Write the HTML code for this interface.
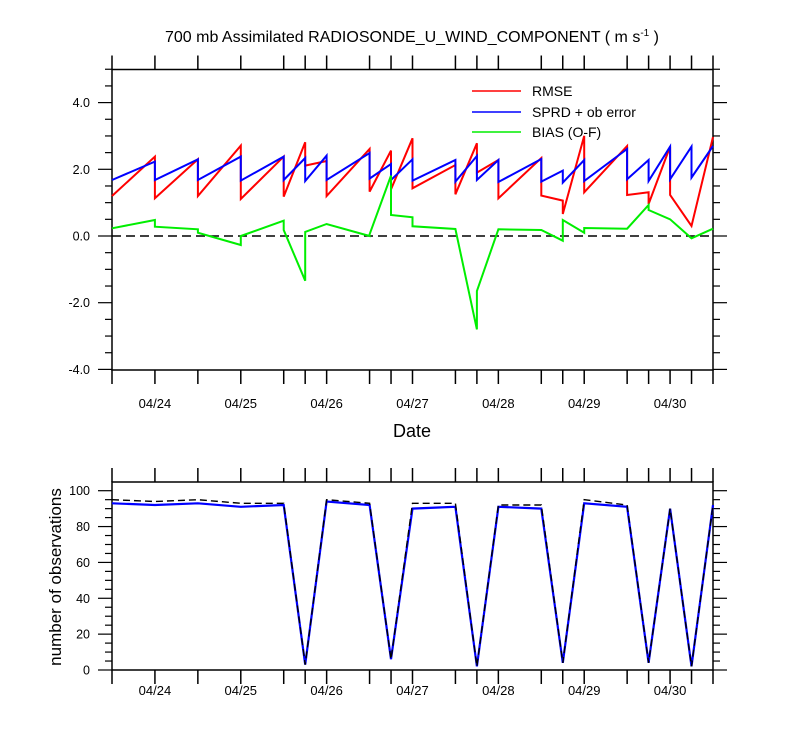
<!DOCTYPE html>
<html><head><meta charset="utf-8"><style>
html,body{margin:0;padding:0;background:#fff;}
svg{display:block;font-family:"Liberation Sans",Arial,sans-serif;}
</style></head><body>
<svg id="chart" width="800" height="750" viewBox="0 0 800 750"></svg>
<script>
const hours = [0,12,24,36,48,54,60,72,78,84,96,102,108,120,126,132,144,150,156,162,168];
const dateLabels = ["04/24","04/25","04/26","04/27","04/28","04/29","04/30"];
const dateHours = [12,36,60,84,108,132,156];
const rmseIn  = [1.2,2.38,2.3,2.71,2.38,2.81,2.25,2.61,2.56,2.93,2.13,2.78,2.28,2.34,1.06,3.0,2.7,1.31,2.68,0.3,2.97];
const rmseOut = [1.2,1.13,1.2,1.11,1.18,2.11,1.2,1.33,1.4,1.43,1.25,1.9,1.13,1.21,0.66,1.31,1.23,0.96,1.23,0.3,2.97];
const sprdIn  = [1.68,2.23,2.3,2.38,2.38,2.34,2.41,2.49,2.16,2.3,2.28,2.4,2.28,2.31,1.96,2.28,2.61,2.28,2.68,2.68,2.7];
const sprdOut = [1.68,1.68,1.68,1.66,1.68,1.65,1.68,1.72,1.68,1.66,1.63,1.68,1.62,1.63,1.6,1.65,1.7,1.65,1.7,1.75,2.7];
const biasIn  = [0.23,0.48,0.2,-0.27,0.46,-1.34,0.36,0.0,1.81,0.56,0.21,-2.8,0.2,0.18,-0.14,0.1,0.22,0.93,0.5,-0.07,0.22];
const biasOut = [0.23,0.28,0.1,0.0,0.18,0.12,0.36,0.05,0.63,0.29,0.21,-1.65,0.2,0.18,0.48,0.24,0.22,0.78,0.5,-0.07,0.22];
const nobsUsed  = [93,92,93,91,92,3,94,92,6,90,91,2,91,90,4,93,91,4,90,2,92];
const nobsTotal = [95,94,95,93,93,3,95,93,6,93,93,2,92,92,4,95,92,4,90,2,92];
const yTicksTop = [4.0,2.0,0.0,-2.0,-4.0];
const yTicksBot = [0,20,40,60,80,100];

const NS="http://www.w3.org/2000/svg";
const svg=document.getElementById('chart');
function el(tag,attrs,parent){const e=document.createElementNS(NS,tag);for(const k in attrs)e.setAttribute(k,attrs[k]);(parent||svg).appendChild(e);return e;}
const X0=112,X1=713;
const xs=h=>X0+(X1-X0)*h/168;
const yTop=v=>236-v*33.35;
const yBot=v=>670-v*1.793;

const title=el('text',{x:412,y:42,'text-anchor':'middle','font-size':'16'});


title.innerHTML='700 mb Assimilated RADIOSONDE_U_WIND_COMPONENT ( m s<tspan dy="-6" font-size="10">-1</tspan><tspan dy="6"> )</tspan>';

function panel(name,yT,yB,yfn,ticks,minorStep,vmin,vmax,fmt,labOff){
  const g=el('g',{});
  
  
  el('rect',{x:X0,y:yT,width:X1-X0,height:yB-yT,fill:'none',stroke:'#000','stroke-width':1.5},g);
  hours.forEach(h=>{
    const x=xs(h);
    el('line',{x1:x,y1:yT,x2:x,y2:yT-14,stroke:'#000','stroke-width':1.5},g);
    el('line',{x1:x,y1:yB,x2:x,y2:yB+14,stroke:'#000','stroke-width':1.5},g);
  });
  for(let v=vmin;v<=vmax+1e-9;v+=minorStep){
    const y=yfn(v);
    if(y<yT-0.5||y>yB+0.5)continue;
    const major=ticks.some(t=>Math.abs(t-v)<1e-6);
    const L=major?14:7;
    el('line',{x1:X0,y1:y,x2:X0-L,y2:y,stroke:'#000','stroke-width':1.2},g);
    el('line',{x1:X1,y1:y,x2:X1+L,y2:y,stroke:'#000','stroke-width':1.2},g);
  }
  ticks.forEach(t=>{
    const tx=el('text',{x:90,y:yfn(t)+4.5,'text-anchor':'end','font-size':'12.5'},g);
    
    
    tx.textContent=fmt(t);
  });
  dateHours.forEach((h,i)=>{
    const tx=el('text',{x:xs(h),y:yB+labOff,'text-anchor':'middle','font-size':'13'},g);
    
    
    tx.textContent=dateLabels[i];
  });
  return g;
}
panel('main-panel',69.5,370,yTop,yTicksTop,0.5,-4,5,t=>t.toFixed(1),38);
panel('obs-panel',482,670,yBot,yTicksBot,5,0,104,t=>String(t),25);

const zero=el('line',{x1:X0,y1:yTop(0),x2:X1,y2:yTop(0),stroke:'#000','stroke-width':1.5,'stroke-dasharray':'9,5'});



function sawPath(inV,outV){
  let d='';
  hours.forEach((h,i)=>{
    const x=xs(h).toFixed(1);
    d+=(i?'L':'M')+x+','+yTop(inV[i]).toFixed(1);
    d+='L'+x+','+yTop(outV[i]).toFixed(1);
  });
  return d;
}
const pr=el('path',{d:sawPath(rmseIn,rmseOut),fill:'none',stroke:'#ff0000','stroke-width':2});


const pb=el('path',{d:sawPath(sprdIn,sprdOut),fill:'none',stroke:'#0000ff','stroke-width':2});


const pg=el('path',{d:sawPath(biasIn,biasOut),fill:'none',stroke:'#00ee00','stroke-width':2});



function linePath(vals){return hours.map((h,i)=>(i?'L':'M')+xs(h).toFixed(1)+','+yBot(vals[i]).toFixed(1)).join('');}
const nb=el('path',{d:linePath(nobsUsed),fill:'none',stroke:'#0000ff','stroke-width':2.2});


const nt=el('path',{d:linePath(nobsTotal),fill:'none',stroke:'#000','stroke-width':1.4,'stroke-dasharray':'7,4'});



const legendItems=[['RMSE','#ff0000',91],['SPRD + ob error','#0000ff',112],['BIAS (O-F)','#00ee00',132]];
legendItems.forEach(it=>{
  const g=el('g',{});
  
  
  el('line',{x1:472,y1:it[2],x2:521,y2:it[2],stroke:it[1],'stroke-width':1.5},g);
  const t=el('text',{x:532,y:it[2]+5,'font-size':'14'},g);
  t.textContent=it[0];
});

const xt=el('text',{x:412,y:437,'text-anchor':'middle','font-size':'18'});


xt.textContent='Date';
const yt=el('text',{x:0,y:0,'text-anchor':'middle','font-size':'17',transform:'translate(61,577) rotate(-90)'});


yt.textContent='number of observations';
</script>
</body></html>
